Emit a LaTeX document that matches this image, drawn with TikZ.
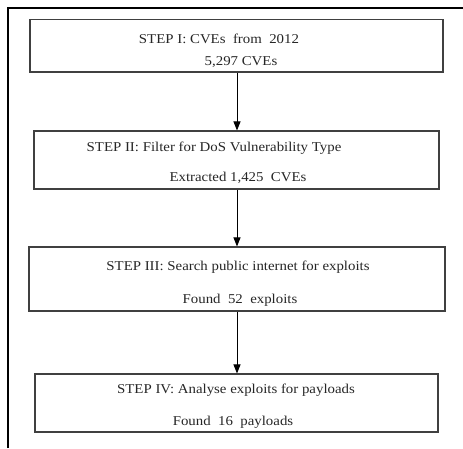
\documentclass[tikz,border=0pt]{standalone}
\usepackage{fontspec}
\setmainfont[FakeStretch=1.1]{Liberation Serif}
\usetikzlibrary{arrows.meta}
\begin{document}
\begin{tikzpicture}[x=1pt,y=-1pt,
  stepbox/.style={draw=black!75,line width=1.1pt,fill=none},
  txt/.style={inner sep=0pt,font=\fontsize{13.5}{15}\selectfont,text=black!85},
  conn/.style={line width=0.9pt,-{Triangle[length=9pt,width=7pt]}}]
\useasboundingbox (0,0) rectangle (463,448);
\fill[white] (0,0) rectangle (463,448);
% outer frame (partial)
\draw[line width=2pt] (7.5,448) -- (7.5,8) -- (463,8);
% boxes
\node[stepbox,minimum width=413pt,minimum height=52.5pt,inner sep=0pt] (b1) at (236.5,45.75) {};
\node[stepbox,minimum width=405pt,minimum height=58pt,inner sep=0pt] (b2) at (236.5,160) {};
\node[stepbox,minimum width=416pt,minimum height=64pt,inner sep=0pt] (b3) at (237,279) {};
\node[stepbox,minimum width=403pt,minimum height=58pt,inner sep=0pt] (b4) at (236.5,403) {};
% texts
\node[txt] (t1a) at (219,39) {STEP I: CVEs\ \ from\ \ 2012};
\node[txt] (t1b) at (241,62) {5,297 CVEs};
\node[txt] (t2a) at (214,148) {STEP II: Filter for DoS Vulnerability Type};
\node[txt] (t2b) at (238,178) {Extracted 1,425\ \ CVEs};
\node[txt] (t3a) at (238,267) {STEP III: Search public internet for exploits};
\node[txt] (t3b) at (240,300) {Found\ \ 52\ \ exploits};
\node[txt] (t4a) at (236,390) {STEP IV: Analyse exploits for payloads};
\node[txt] (t4b) at (233,422) {Found\ \ 16\ \ payloads};
% connectors
\draw[conn] (b1.south -| 237,0) -- (b2.north -| 237,0);
\draw[conn] (b2.south -| 237,0) -- (b3.north -| 237,0);
\draw[conn] (b3.south -| 237,0) -- (b4.north -| 237,0);
\end{tikzpicture}
\end{document}
